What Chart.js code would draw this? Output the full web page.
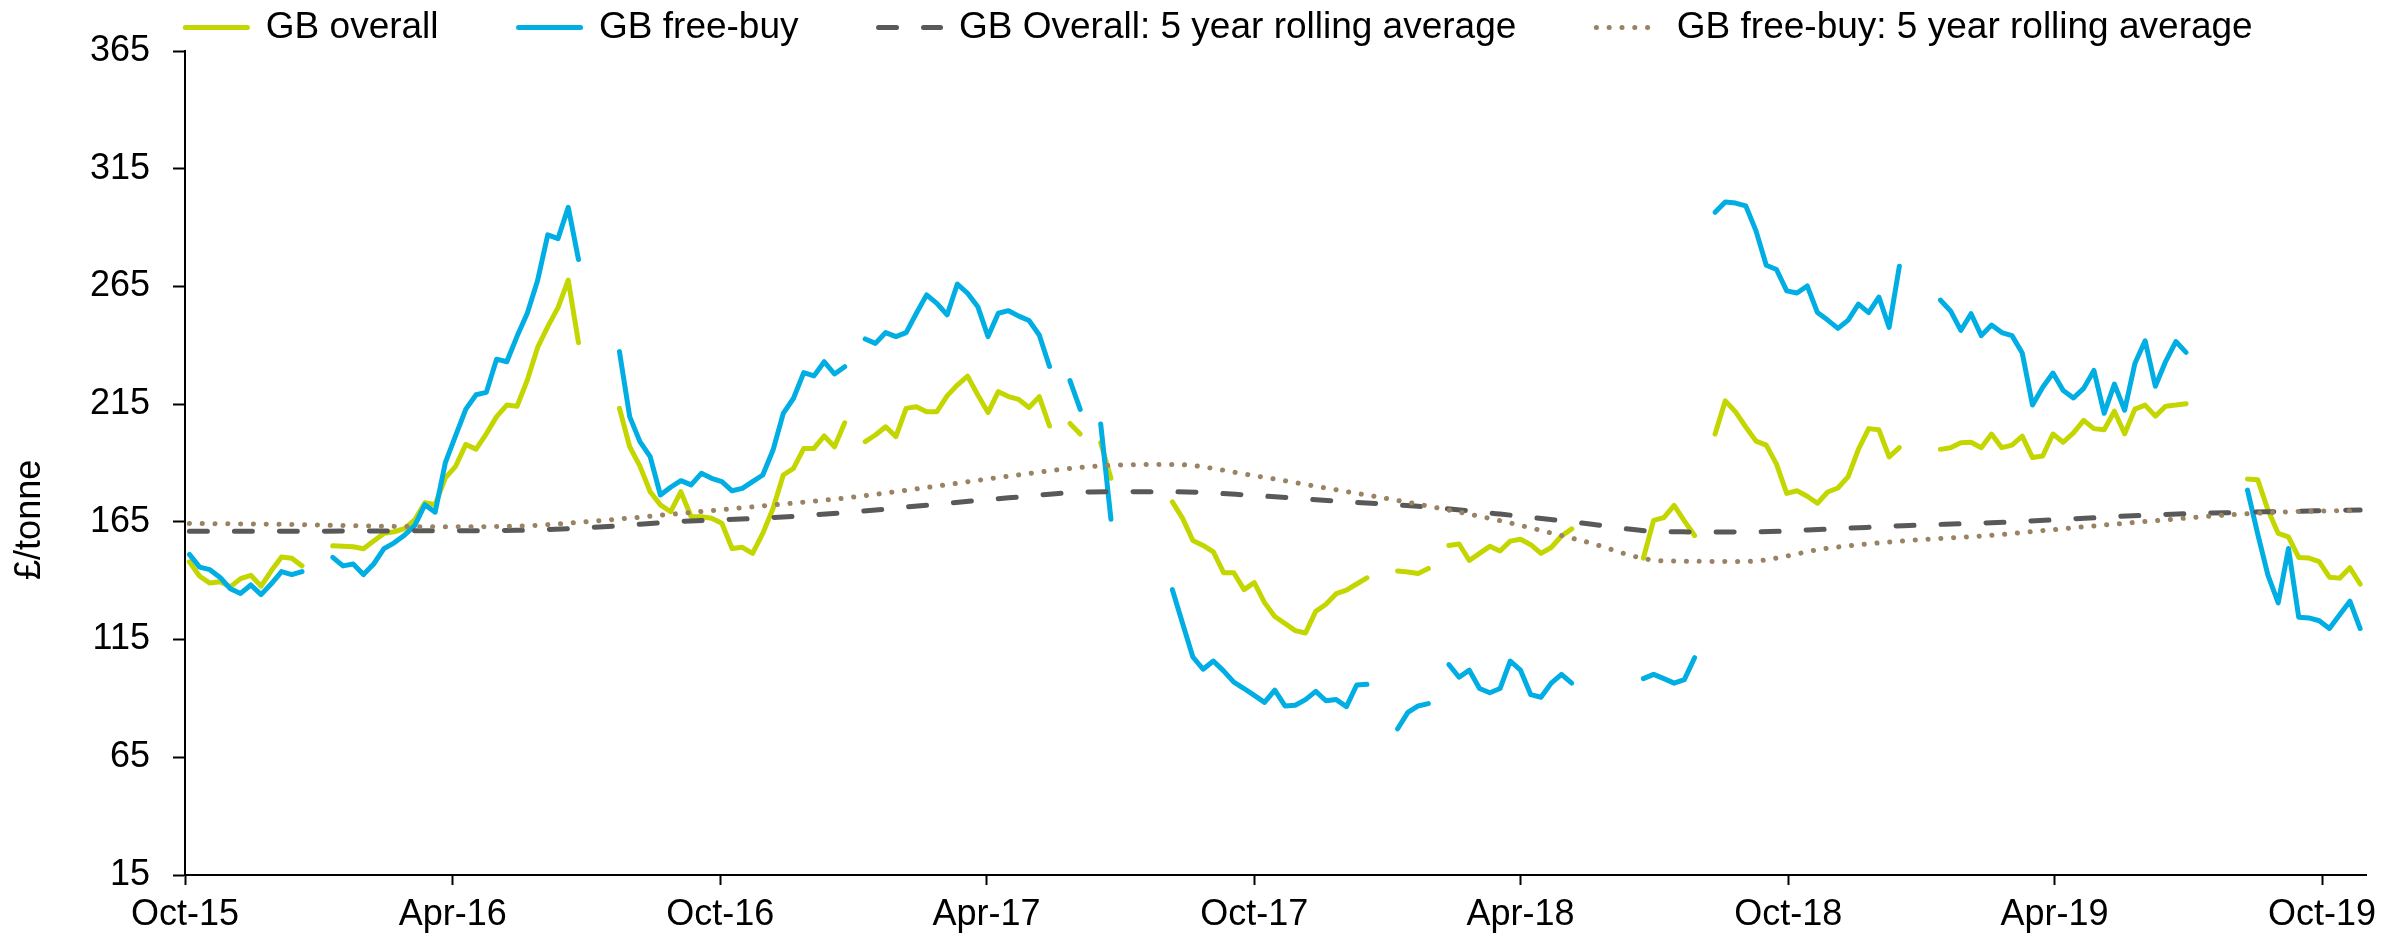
<!DOCTYPE html>
<html lang="en">
<head>
<meta charset="utf-8">
<title>GB prices</title>
<script src="https://cdn.jsdelivr.net/npm/chart.js@4.4.1/dist/chart.umd.min.js"></script>
<style>
  html, body { margin: 0; padding: 0; background: #ffffff; }
  canvas { display: block; }
</style>
</head>
<body>
<canvas id="grafico" width="2407" height="939"></canvas>
<script>
// weekly prices (£/tonne), first week 4 Oct 2015, gaps = no quote
const axisStart = '2015-10-01';
const axisEnd = '2019-10-31';
const firstWeek = '2015-10-04';

const gbOverall = [
  148.0, 141.9, 139.0, 139.6, 137.4, 140.9, 142.3, 137.7, 144.2, 150.1, 149.5, 146.3,
  null, null,
  154.8, 154.6, 154.4, 153.6, 156.9, 160.1, 160.8, 162.1, 165.8, 173.1, 172.3, 183.7,
  188.6, 197.9, 195.9, 202.4, 209.7, 214.6, 214.1, 225.2, 239.0, 247.9, 256.0, 267.7, 241.1,
  null, null, null,
  213.2, 196.9, 188.7, 177.8, 172.2, 169.3, 177.8, 167.2, 167.2, 166.5, 164.4, 153.7,
  154.2, 151.6, 160.1, 170.7, 184.9, 187.7, 196.2, 196.2, 201.5, 196.9, 207.1,
  null,
  199.1, 201.9, 205.4, 201.2, 213.2, 213.9, 211.8, 211.8, 218.5, 223.1, 226.9, 218.9,
  211.4, 220.3, 218.2, 217.0, 213.6, 218.2, 205.7,
  null,
  206.8, 202.3,
  null,
  198.6, 183.5,
  null, null, null, null, null,
  173.5, 166.5, 157.1, 155.0, 152.3, 143.4, 143.4, 136.2, 139.2, 130.7, 124.8, 121.8,
  118.8, 117.8, 127.0, 130.0, 134.5, 136.0, 138.6, 141.2,
  null, null,
  144.1, 143.7, 143.1, 145.2,
  null,
  155.0, 155.6, 148.6, 151.6, 154.6, 152.6, 156.8, 157.6, 155.3, 151.6, 154.1, 159.0, 162.0,
  null, null, null, null, null, null,
  149.6, 165.6, 166.8, 172.0, 165.4, 159.2,
  null,
  202.3, 216.4, 211.7, 205.3, 199.3, 197.6, 189.5, 177.1, 178.2, 175.9, 172.9, 177.7,
  179.4, 184.2, 195.8, 204.6, 204.1, 192.6, 196.5,
  null, null, null,
  195.8, 196.5, 198.6, 198.8, 196.5, 202.3, 196.5, 197.6, 201.4, 192.3, 193.0, 202.3,
  198.8, 202.8, 208.1, 204.6, 204.1, 212.0, 202.4, 212.9, 214.6, 209.9, 214.1, 214.6, 215.2,
  null, null, null, null, null,
  183.2, 182.9, 170.0, 160.1, 158.6, 149.9, 149.6, 148.1, 141.5, 141.1, 145.5, 138.6
];

const gbFreeBuy = [
  151.2, 145.8, 144.7, 141.4, 136.6, 134.6, 138.2, 134.1, 138.7, 143.9, 142.6, 143.9,
  null, null,
  149.9, 146.3, 147.1, 142.6, 147.1, 153.6, 156.1, 159.3, 163.4, 172.3, 169.1, 190.2,
  201.6, 212.9, 219.0, 220.0, 234.1, 233.0, 243.8, 253.6, 267.4, 286.9, 285.3, 298.6, 276.4,
  null, null, null,
  237.3, 209.7, 199.1, 192.7, 176.4, 179.7, 182.5, 180.7, 185.6, 183.5, 182.1, 178.2,
  179.2, 182.1, 184.9, 195.5, 211.1, 217.5, 228.4, 227.0, 233.0, 227.8, 230.9,
  null,
  242.7, 240.8, 245.4, 243.7, 245.4, 253.6, 261.4, 257.8, 252.9, 266.0, 262.1, 256.4,
  243.7, 253.6, 254.7, 252.4, 250.5, 244.4, 231.0,
  null,
  225.0, 212.8,
  null,
  206.6, 166.1,
  null, null, null, null, null,
  136.2, 121.8, 107.6, 102.4, 105.9, 101.7, 96.9, 94.2, 91.3, 88.3, 93.5, 86.8,
  87.1, 89.5, 93.0, 89.0, 89.5, 86.5, 95.7, 96.0,
  null, null,
  77.1, 84.1, 86.8, 87.8,
  null,
  104.4, 99.0, 102.0, 94.2, 92.4, 94.2, 105.9, 102.0, 91.6, 90.5, 96.5, 100.2, 96.5,
  null, null, null, null, null, null,
  98.4, 100.2, 98.4, 96.5, 98.0, 107.3,
  null,
  296.5, 300.9, 300.4, 299.2, 288.6, 274.0, 272.2, 263.1, 262.2, 265.2, 253.9, 250.7,
  247.2, 250.7, 257.5, 253.9, 260.5, 247.6, 273.6,
  null, null, null,
  259.2, 254.6, 246.3, 253.4, 244.1, 248.6, 245.4, 244.1, 236.7, 214.6, 222.2, 228.2,
  220.8, 217.6, 221.7, 229.3, 211.1, 223.5, 212.4, 232.3, 241.9, 222.6, 233.1, 241.6, 237.0,
  null, null, null, null, null,
  178.5, 159.8, 142.3, 130.6, 153.7, 124.5, 124.2, 123.0, 119.7, 125.5, 131.3, 119.7
];

// 5 year rolling averages, read every 8 weeks
const avgWeeks = [0, 8, 16, 24, 32, 40, 48, 56, 64, 72, 80, 88, 96, 104,
  112, 120, 128, 136, 144, 152, 160, 168, 176, 184, 192, 200, 208, 212];
const overallAvg = [161.0, 161.0, 161.1, 161.2, 161.4, 162.8, 165.2, 166.6, 168.9, 172.1,
  175.2, 177.7, 177.8, 176.2, 173.8, 171.6, 168.3, 164.5, 160.8, 160.7, 161.9, 163.5,
  164.6, 166.3, 168.0, 169.0, 169.7, 170.0];
const freeBuyAvg = [164.3, 164.0, 163.4, 162.9, 163.2, 165.5, 168.6, 171.8, 175.1, 179.6,
  184.4, 188.5, 189.4, 184.6, 178.6, 172.5, 165.5, 157.0, 148.4, 148.2, 153.8, 157.1,
  159.3, 162.5, 165.5, 168.2, 169.6, 169.7];

const tickDates = ['2015-10-01', '2016-04-01', '2016-10-01', '2017-04-01', '2017-10-01',
  '2018-04-01', '2018-10-01', '2019-04-01', '2019-10-01'];
const tickLabels = ['Oct-15', 'Apr-16', 'Oct-16', 'Apr-17', 'Oct-17', 'Apr-18', 'Oct-18', 'Apr-19', 'Oct-19'];
const yTicks = [15, 65, 115, 165, 215, 265, 315, 365];

const cor1 = '#c4d600';
const cor2 = '#00aee3';
const cor3 = '#595959';
const cor4 = '#9a8262';

const fonte = '"Liberation Sans", Arial, sans-serif';

const dia = d => (Date.parse(d) - Date.parse(axisStart)) / 86400000;
const semana = i => dia(firstWeek) + 7 * i;
const serie = valores => valores.map((v, i) => ({ x: semana(i), y: v }));
const media = valores => valores.map((v, i) => ({ x: semana(avgWeeks[i]), y: v }));

// y axis title sits a bit below the middle of the plot, as in the source
const tituloY = {
    id: 'tituloY',
    afterDraw(chart) {
        const { ctx, chartArea } = chart;
        ctx.save();
        ctx.translate(30, chartArea.top + (chartArea.bottom - chartArea.top) * 0.569);
        ctx.rotate(-Math.PI / 2);
        ctx.font = '36px ' + fonte;
        ctx.fillStyle = '#000';
        ctx.textAlign = 'center';
        ctx.textBaseline = 'middle';
        ctx.fillText('£/tonne', 0, 0);
        ctx.restore();
    }
};

// legend is centred a little right of the canvas middle
const deslocaLegenda = {
    id: 'deslocaLegenda',
    afterLayout(chart) {
        chart.legend.left += 36;
        chart.legend.right += 36;
    }
};

Chart.defaults.font.family = fonte;
Chart.defaults.color = '#000';

const linha = {
    pointRadius: 0,
    pointHoverRadius: 0,
    borderWidth: 5,
    borderJoinStyle: 'round',
    borderCapStyle: 'round',
    spanGaps: false,
    tension: 0
};

const ctx = document.getElementById('grafico').getContext('2d');
const grafico = new Chart(ctx, {
    type: 'line',
    data: {
        datasets: [{
            ...linha,
            label: 'GB overall',
            data: serie(gbOverall),
            borderColor: cor1,
            backgroundColor: cor1,
            order: 4
        },
        {
            ...linha,
            label: 'GB free-buy',
            data: serie(gbFreeBuy),
            borderColor: cor2,
            backgroundColor: cor2,
            order: 3
        },
        {
            ...linha,
            label: 'GB Overall: 5 year rolling average',
            data: media(overallAvg),
            borderColor: cor3,
            backgroundColor: cor3,
            borderDash: [18, 27],
            cubicInterpolationMode: 'monotone',
            order: 2
        },
        {
            ...linha,
            label: 'GB free-buy: 5 year rolling average',
            data: media(freeBuyAvg),
            borderColor: cor4,
            backgroundColor: cor4,
            borderDash: [0.1, 12.7],
            cubicInterpolationMode: 'monotone',
            order: 1
        }]
    },
    plugins: [tituloY, deslocaLegenda],
    options: {
        responsive: false,
        animation: false,
        devicePixelRatio: 1,
        layout: {
            padding: { top: -71, right: 41, bottom: 0, left: 0 }
        },
        plugins: {
            tooltip: { enabled: false },
            legend: {
                position: 'top',
                align: 'center',
                maxHeight: 122,
                labels: {
                    usePointStyle: true,
                    pointStyle: 'line',
                    pointStyleWidth: 62,
                    padding: 80,
                    color: '#000',
                    font: { size: 37 },
                    sort: (a, b) => a.datasetIndex - b.datasetIndex,
                    generateLabels: chart => Chart.defaults.plugins.legend.labels.generateLabels(chart).map(item => {
                        const ds = chart.data.datasets[item.datasetIndex];
                        return {
                            ...item,
                            lineWidth: ds.borderWidth,
                            lineDash: ds.borderDash || [],
                            lineCap: ds.borderCapStyle,
                            strokeStyle: ds.borderColor
                        };
                    })
                }
            }
        },
        scales: {
            x: {
                type: 'linear',
                min: 0,
                max: dia(axisEnd),
                afterBuildTicks: s => { s.ticks = tickDates.map(d => ({ value: dia(d) })); },
                afterFit: s => { s.height = 64; },
                ticks: {
                    callback: (v, i) => tickLabels[i],
                    autoSkip: false,
                    maxRotation: 0,
                    padding: 8,
                    color: '#000',
                    font: { size: 36 }
                },
                grid: { drawOnChartArea: false, tickLength: 10, tickColor: '#000', tickWidth: 2 },
                border: { color: '#000', width: 2 }
            },
            y: {
                min: 15,
                max: 365,
                afterBuildTicks: s => { s.ticks = yTicks.map(v => ({ value: v })); },
                afterFit: s => { s.width = 185; },
                ticks: {
                    padding: 23,
                    color: '#000',
                    font: { size: 36 }
                },
                grid: { drawOnChartArea: false, tickLength: 12, tickColor: '#000', tickWidth: 2 },
                border: { color: '#000', width: 2 }
            }
        }
    }
});
</script>
</body>
</html>
